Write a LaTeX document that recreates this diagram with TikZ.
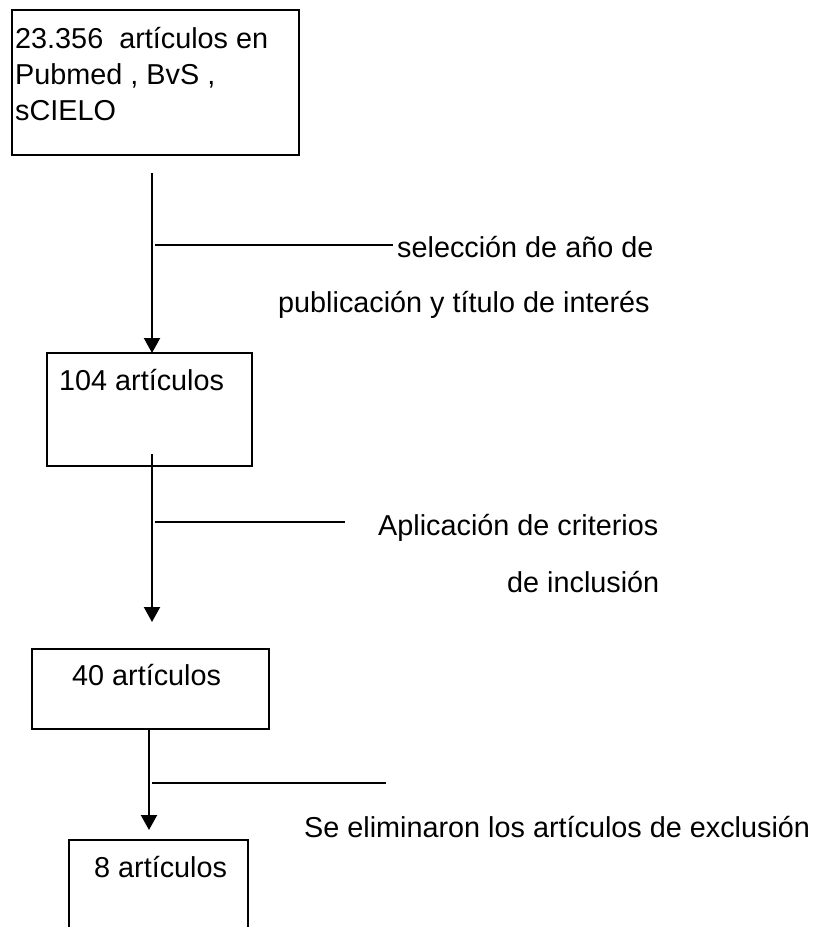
\documentclass[tikz,border=0pt]{standalone}
\usepackage{fontspec}
\setmainfont{Liberation Sans}
\usetikzlibrary{arrows.meta}
\begin{document}
\begin{tikzpicture}[x=1pt,y=-1pt,
  box/.style={draw,line width=2.2pt,anchor=north west,inner sep=0pt,outer sep=0pt},
  txt/.style={anchor=base west,inner sep=0pt,font=\fontsize{28.8}{34}\selectfont},
  ln/.style={line width=2.2pt},
  arr/.style={line width=2.2pt,-{Triangle[width=16pt,length=15pt]}}]
\useasboundingbox (0,0) rectangle (829,927);
\clip (0,0) rectangle (829,927);
% boxes
\node[box,minimum width=287pt,minimum height=145pt] (b1) at (12,10) {};
\node[box,minimum width=205pt,minimum height=113pt] (b2) at (47,353) {};
\node[box,minimum width=237pt,minimum height=80pt] (b3) at (32,649) {};
\draw[ln] (69,960) -- (69,840) coordinate (b4tl) -- (248,840) coordinate (b4tr) -- (248,960);
% box texts
\node[txt] (t1a) at (15,48) {23.356\ \ artículos en};
\node[txt] (t1b) at (15,84) {Pubmed , BvS ,};
\node[txt] (t1c) at (15,120) {sCIELO};
\node[txt] (t2) at (59,390) {104 artículos};
\node[txt] (t3) at (72,685) {40 artículos};
\node[txt] (t4) at (94,877) {8 artículos};
% side labels
\node[txt] (l1a) at (397,257) {selección de año de};
\node[txt] (l1b) at (278,312) {publicación y título de interés};
\node[txt] (l2a) at (378,535) {Aplicación de criterios};
\node[txt] (l2b) at (507,592) {de inclusión};
\node[txt] (l3) at (304,837) {Se eliminaron los artículos de exclusión};
% arrows
\coordinate (a1s) at (152,173);
\coordinate (a1e) at (152,353);
\draw[arr] (a1s) -- (a1e);
\coordinate (a2s) at (152,454);
\coordinate (a2e) at (152,622);
\draw[arr] (a2s) -- (a2e);
\coordinate (a3s) at (149,729);
\coordinate (a3e) at (149,830);
\draw[arr] (a3s) -- (a3e);
% branch lines
\coordinate (r1s) at (155,245);
\coordinate (r1e) at (393,245);
\draw[ln] (r1s) -- (r1e);
\coordinate (r2s) at (155,522);
\coordinate (r2e) at (345,522);
\draw[ln] (r2s) -- (r2e);
\coordinate (r3s) at (152,783);
\coordinate (r3e) at (386,783);
\draw[ln] (r3s) -- (r3e);
\end{tikzpicture}
\end{document}
